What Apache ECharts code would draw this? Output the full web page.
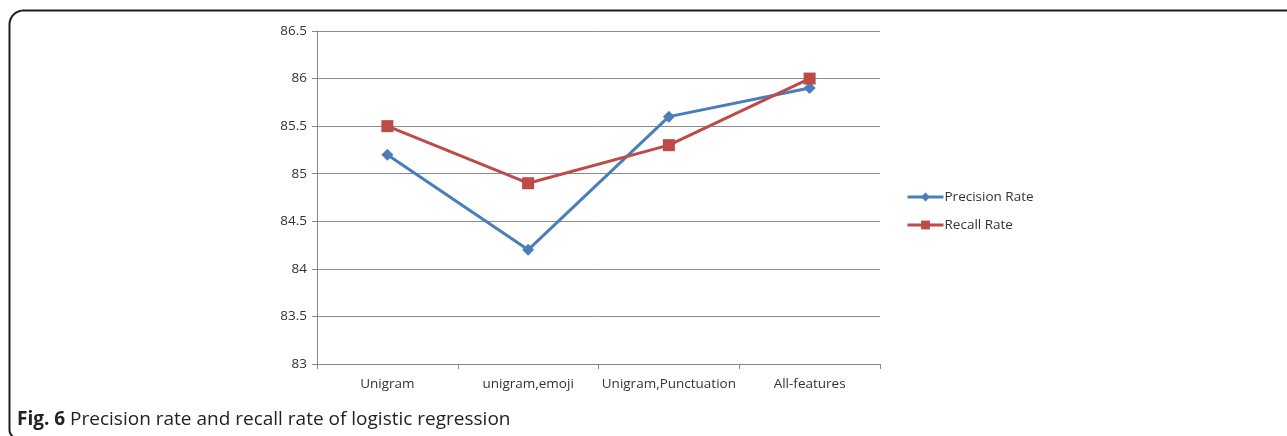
<!DOCTYPE html>
<html>
<head>
<meta charset="utf-8">
<script src="https://cdn.jsdelivr.net/npm/echarts@6/dist/echarts.min.js"></script>
<style>
  html, body { margin: 0; padding: 0; background: #ffffff; }
  #chart { width: 1287px; height: 436px; }
</style>
</head>
<body>
<div id="chart"></div>
<script>
// Feature sets compared
const categories = ['Unigram', 'unigram,emoji', 'Unigram,Punctuation', 'All-features'];
// Logistic regression scores (%)
const precisionRate = [85.2, 84.2, 85.6, 85.9];
const recallRate = [85.5, 84.9, 85.3, 86.0];
const seriesNames = ['Precision Rate', 'Recall Rate'];

const axisFont = 'Open Sans, Noto Sans, sans-serif';

// Outline of the figure box: top edge, rounded top-left corner, left edge, rounded bottom-left
function framePoints() {
  const pts = [[1290, 10.5]];
  const r = 14, cx = 9.5 + r, cy = 10.5 + r;
  for (let i = 0; i <= 12; i++) {
    const a = -Math.PI / 2 - (i / 12) * (Math.PI / 2);
    pts.push([cx + r * Math.cos(a), cy + r * Math.sin(a)]);
  }
  const r2 = 8, cy2 = 430;
  for (let i = 0; i <= 6; i++) {
    const a = Math.PI - (i / 6) * (Math.PI / 2) * 0.6;
    pts.push([9.5 + r2 + r2 * Math.cos(a), cy2 + r2 * Math.sin(a)]);
  }
  return pts;
}

const chart = echarts.init(document.getElementById('chart'), null, { renderer: 'canvas' });

chart.setOption({
  animation: false,
  backgroundColor: '#ffffff',
  title: {
    text: '{b|Fig. 6} Precision rate and recall rate of logistic regression',
    left: 12,
    top: 405,
    textStyle: {
      fontFamily: axisFont,
      fontSize: 19,
      fontWeight: 'normal',
      color: '#222222',
      rich: {
        b: { fontFamily: axisFont, fontSize: 19, fontWeight: 'bold', color: '#222222' }
      }
    }
  },
  legend: {
    orient: 'vertical',
    left: 901,
    top: 185,
    itemGap: 14,
    itemWidth: 36,
    itemHeight: 11,
    data: seriesNames,
    lineStyle: { width: 3 },
    textStyle: { fontFamily: axisFont, fontSize: 13.5, color: '#333333', padding: [0, 0, 0, -4] }
  },
  grid: {
    left: 317,
    right: 407,
    top: 31,
    bottom: 72,
    containLabel: false
  },
  xAxis: {
    type: 'category',
    data: categories,
    boundaryGap: true,
    axisLine: { show: true, lineStyle: { color: '#888888', width: 1 } },
    axisTick: { show: true, interval: 0, length: 5, lineStyle: { color: '#888888' } },
    axisLabel: {
      interval: 0,
      margin: 13,
      fontFamily: axisFont,
      fontSize: 13.5,
      color: '#333333'
    },
    splitLine: { show: false }
  },
  yAxis: {
    type: 'value',
    min: 83,
    max: 86.5,
    interval: 0.5,
    axisLine: { show: true, lineStyle: { color: '#888888', width: 1 } },
    axisTick: { show: true, inside: false, length: 5, lineStyle: { color: '#888888' } },
    axisLabel: {
      margin: 10,
      fontFamily: axisFont,
      fontSize: 13.5,
      color: '#333333',
      formatter: v => String(Math.round(v * 10) / 10)
    },
    splitLine: { show: true, lineStyle: { color: '#8c8c8c', width: 1 } }
  },
  series: [
    {
      name: seriesNames[0],
      type: 'line',
      data: precisionRate,
      symbol: 'diamond',
      symbolSize: 12,
      lineStyle: { color: '#4a7ebb', width: 3 },
      itemStyle: { color: '#4a7ebb' },
      z: 2
    },
    {
      name: seriesNames[1],
      type: 'line',
      data: recallRate,
      symbol: 'rect',
      symbolSize: 12,
      lineStyle: { color: '#be4b48', width: 3 },
      itemStyle: { color: '#be4b48' },
      z: 3
    }
  ],
  graphic: [
    {
      type: 'polyline',
      shape: { points: framePoints() },
      style: { fill: null, stroke: '#1e1e1e', lineWidth: 2 },
      silent: true
    }
  ]
});
</script>
</body>
</html>
